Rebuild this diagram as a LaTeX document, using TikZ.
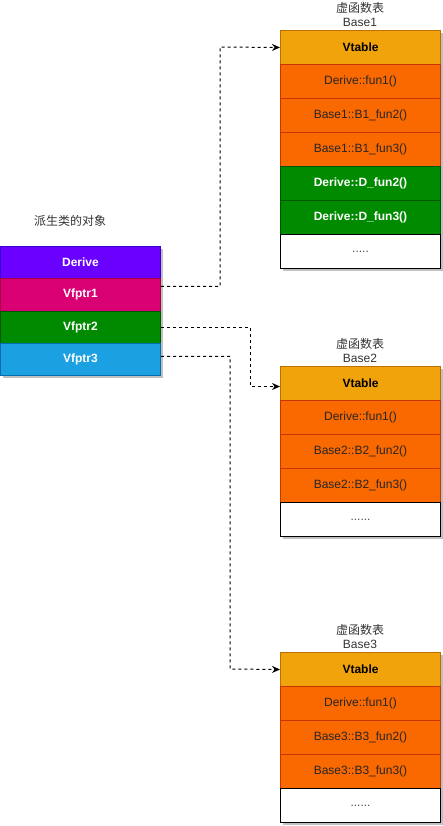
\documentclass[tikz,border=0pt]{standalone}
\usepackage{fontspec}
\setmainfont{Liberation Sans}
\newfontfamily\cjk{Noto Sans CJK SC}
\usetikzlibrary{arrows.meta}
\definecolor{vtfill}{HTML}{F0A30A}\definecolor{vtline}{HTML}{BD7000}
\definecolor{orfill}{HTML}{FA6800}\definecolor{orline}{HTML}{C73500}
\definecolor{grfill}{HTML}{008A00}\definecolor{grline}{HTML}{005700}
\definecolor{pufill}{HTML}{6A00FF}\definecolor{puline}{HTML}{3700CC}
\definecolor{mafill}{HTML}{D80073}\definecolor{maline}{HTML}{A50040}
\definecolor{blfill}{HTML}{1BA1E2}\definecolor{blline}{HTML}{006EAF}
\definecolor{shadowc}{HTML}{C0C0C0}
\begin{document}
\begin{tikzpicture}[x=1pt,y=-1pt,
  cell/.style={rectangle,minimum width=160pt,minimum height=34pt,inner sep=0pt,anchor=north west,line width=1pt,font=\fontsize{12}{14}\selectfont},
  objcell/.style={cell,minimum height=32.25pt,text=white,font=\fontsize{12}{14}\selectfont\bfseries},
  vt/.style={cell,fill=vtfill,draw=vtline,font=\fontsize{12}{14}\selectfont\bfseries},
  orc/.style={cell,fill=orfill,draw=orline,text=black!85},
  grc/.style={cell,fill=grfill,draw=grline,text=white,font=\fontsize{12}{14}\selectfont\bfseries},
  whc/.style={cell,fill=white,draw=black,text=black!70},
  ttl/.style={align=center,font=\fontsize{12}{14}\selectfont,text=black!80,inner sep=0pt},
  ptr/.style={draw=black,line width=1pt,dash pattern=on 3pt off 3pt,-{Stealth[length=8pt,width=7pt]}},
  shd/.style={fill=shadowc}]
\useasboundingbox (0,0) rectangle (443,826);
% shadows
\fill[shd] (283,33) rectangle (443,271);
\fill[shd] (283,369) rectangle (443,539);
\fill[shd] (283,655) rectangle (443,825);
\fill[shd] (3,249) rectangle (163,378);
% object
\node[ttl] (objt) at (70,221) {\cjk 派生类的对象};
\node[objcell,fill=pufill,draw=puline] (d)  at (0,246) {Derive};
\node[objcell,fill=mafill,draw=maline] (v1) at (0,278.25) {Vfptr1};
\node[objcell,fill=grfill,draw=grline] (v2) at (0,310.5) {Vfptr2};
\node[objcell,fill=blfill,draw=blline] (v3) at (0,342.75) {Vfptr3};
% table 1
\node[ttl] (t1t) at (360,15) {{\cjk 虚函数表}\\Base1};
\node[vt]  (a0) at (280,30) {Vtable};
\node[orc] (a1) at (280,64) {Derive::fun1()};
\node[orc] (a2) at (280,98) {Base1::B1\_fun2()};
\node[orc] (a3) at (280,132) {Base1::B1\_fun3()};
\node[grc] (a4) at (280,166) {Derive::D\_fun2()};
\node[grc] (a5) at (280,200) {Derive::D\_fun3()};
\node[whc] (a6) at (280,234) {.....};
% table 2
\node[ttl] (t2t) at (360,351) {{\cjk 虚函数表}\\Base2};
\node[vt]  (b0) at (280,366) {Vtable};
\node[orc] (b1) at (280,400) {Derive::fun1()};
\node[orc] (b2) at (280,434) {Base2::B2\_fun2()};
\node[orc] (b3) at (280,468) {Base2::B2\_fun3()};
\node[whc] (b4) at (280,502) {......};
% table 3
\node[ttl] (t3t) at (360,637) {{\cjk 虚函数表}\\Base3};
\node[vt]  (c0) at (280,652) {Vtable};
\node[orc] (c1) at (280,686) {Derive::fun1()};
\node[orc] (c2) at (280,720) {Base3::B3\_fun2()};
\node[orc] (c3) at (280,754) {Base3::B3\_fun3()};
\node[whc] (c4) at (280,788) {......};
% pointers
\draw[ptr] ([yshift=8.5pt]v1.east) -| (220,47) -- (a0.west);
\draw[ptr] (v2.east) -| (250,386.5) -- ([yshift=-3pt]b0.west);
\draw[ptr] ([yshift=3pt]v3.east) -| (230,669) -- (c0.west);
\end{tikzpicture}
\end{document}
